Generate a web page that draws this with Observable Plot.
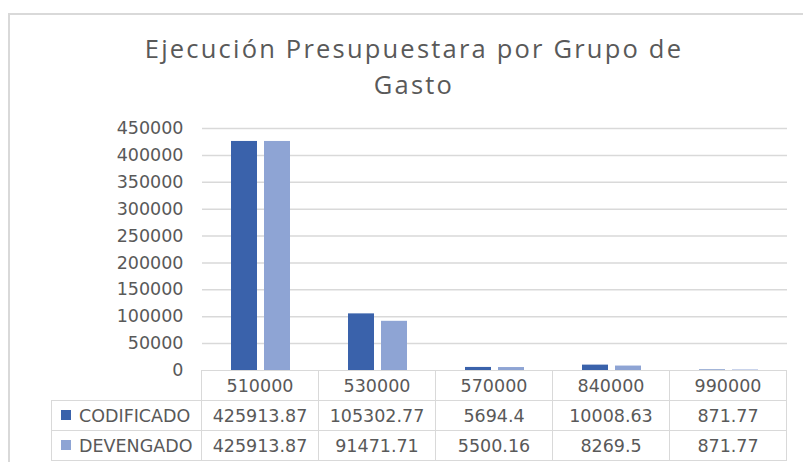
<!DOCTYPE html>
<html>
<head>
<meta charset="utf-8">
<script src="https://cdn.jsdelivr.net/npm/d3@7"></script>
<script src="https://cdn.jsdelivr.net/npm/@observablehq/plot@0.6"></script>
<style>
  html, body { margin: 0; padding: 0; background: #ffffff; }
  #wrap { position: relative; width: 803px; height: 462px; overflow: hidden; background: #fff; }
  #frame { position: absolute; left: 8px; top: 13px; width: 900px; height: 600px; border: 2px solid #d9d9d9; box-sizing: border-box; }
  #title { position: absolute; left: 0; top: 30px; width: 828px; text-align: center; font-family: "Open Sans", sans-serif; font-size: 25.5px; letter-spacing: 2.2px; line-height: 36px; color: #595959; }
  #chart { position: absolute; left: 0; top: 105px; }
  #tbl { position: absolute; border-collapse: collapse; font-family: "DejaVu Sans", sans-serif; font-size: 17.5px; color: #595959; table-layout: fixed; }
  #tbl td { border: 1.5px solid #d9d9d9; text-align: center; padding: 0; height: 30px; box-sizing: border-box; white-space: nowrap; }
  #tbl td.blank { border: none; }
  #tbl td.leg { text-align: left; padding-left: 9px; }
  .sw { display: inline-block; width: 10px; height: 10px; margin-right: 8px; vertical-align: middle; position: relative; top: -2px; }
</style>
</head>
<body>
<div id="wrap">
  <div id="frame"></div>
  <div id="title">Ejecución Presupuestara por Grupo de<br>Gasto</div>
  <div id="chart"></div>
  <table id="tbl"></table>
</div>
<script>
const categories = ["510000", "530000", "570000", "840000", "990000"];
const series = ["CODIFICADO", "DEVENGADO"];
const codificado = [425913.87, 105302.77, 5694.4, 10008.63, 871.77];
const devengado = [425913.87, 91471.71, 5500.16, 8269.5, 871.77];
const yTicks = [0, 50000, 100000, 150000, 200000, 250000, 300000, 350000, 400000, 450000];
const colors = ["#3a62ab", "#8ea4d4"];

const values = [codificado, devengado];
const rows = [];
categories.forEach((c, i) => {
  series.forEach((s, j) => rows.push({cat: c, series: s, value: values[j][i]}));
});

const plot = Plot.plot({
  width: 803,
  height: 357,
  marginTop: 23,
  marginBottom: 92,
  marginLeft: 201,
  marginRight: 15,
  style: {fontFamily: "DejaVu Sans, sans-serif", fontSize: "17.5px", color: "#595959", background: "transparent"},
  facet: {data: rows, x: "cat"},
  fx: {domain: categories, padding: 0, axis: null, label: null},
  x: {domain: series, paddingInner: 0.224, paddingOuter: 0.864, axis: null},
  y: {domain: [0, 450000], ticks: yTicks, tickSize: 0, tickPadding: 19, tickFormat: d => String(d), label: null},
  color: {domain: series, range: colors},
  marks: [
    Plot.ruleY(yTicks.filter(t => t > 0), {stroke: "#d9d9d9", strokeWidth: 1.5}),
    Plot.barY(rows, {x: "series", y: "value", fill: "series"})
  ]
});
document.getElementById("chart").appendChild(plot);

// data table aligned with the facet columns
const fx = plot.scale("fx");
const bw = fx.bandwidth;
const left0 = 201;
const tbl = document.getElementById("tbl");
const legW = 150;
tbl.style.left = (left0 - legW) + "px";
tbl.style.top = "370px";
let html = "<colgroup><col style='width:" + legW + "px'>";
categories.forEach(() => html += "<col style='width:" + bw + "px'>");
html += "</colgroup>";
html += "<tr><td class='blank'></td>" + categories.map(c => "<td>" + c + "</td>").join("") + "</tr>";
series.forEach((s, j) => {
  html += "<tr><td class='leg'><span class='sw' style='background:" + colors[j] + "'></span>" + s + "</td>" +
    values[j].map(v => "<td>" + String(v) + "</td>").join("") + "</tr>";
});
tbl.innerHTML = html;
tbl.style.width = (legW + bw * categories.length) + "px";
</script>
</body>
</html>
